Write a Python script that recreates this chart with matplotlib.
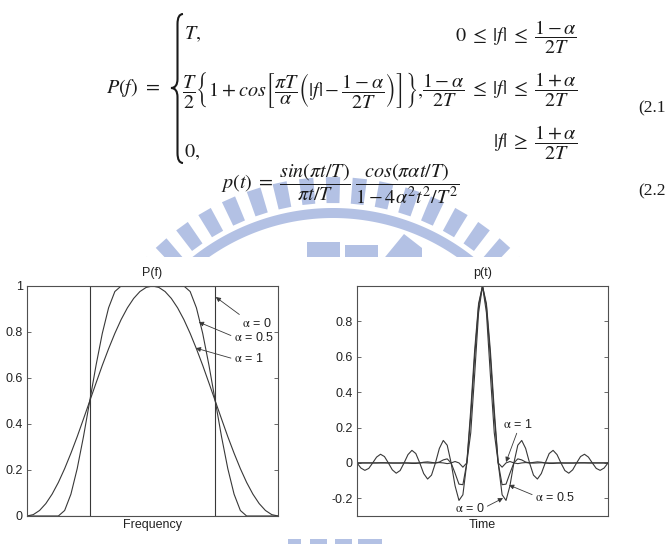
import matplotlib
matplotlib.use('Agg')
import matplotlib.pyplot as plt
from matplotlib.path import Path
from matplotlib.patches import PathPatch, Polygon, Rectangle
import numpy as np

W, H = 665, 544

# ---------------- data ----------------
freq = [-1.00, -0.95, -0.90, -0.85, -0.80, -0.75, -0.70, -0.65, -0.60, -0.55,
        -0.50, -0.45, -0.40, -0.35, -0.30, -0.25, -0.20, -0.15, -0.10, -0.05,
        0.00, 0.05, 0.10, 0.15, 0.20, 0.25, 0.30, 0.35, 0.40, 0.45,
        0.50, 0.55, 0.60, 0.65, 0.70, 0.75, 0.80, 0.85, 0.90, 0.95, 1.00]
P_rect_f = [-1.0, -0.5, -0.5, 0.5, 0.5, 1.0]
P_rect = [0.0, 0.0, 1.0, 1.0, 0.0, 0.0]
P_a05 = [0.000, 0.000, 0.000, 0.000, 0.000, 0.000, 0.024, 0.095, 0.206, 0.345,
         0.500, 0.655, 0.794, 0.905, 0.976, 1.000, 1.000, 1.000, 1.000, 1.000,
         1.000, 1.000, 1.000, 1.000, 1.000, 1.000, 0.976, 0.905, 0.794, 0.655,
         0.500, 0.345, 0.206, 0.095, 0.024, 0.000, 0.000, 0.000, 0.000, 0.000, 0.000]
P_a1 = [0.000, 0.006, 0.024, 0.054, 0.095, 0.146, 0.206, 0.273, 0.345, 0.422,
        0.500, 0.578, 0.655, 0.727, 0.794, 0.854, 0.905, 0.946, 0.976, 0.994,
        1.000, 0.994, 0.976, 0.946, 0.905, 0.854, 0.794, 0.727, 0.655, 0.578,
        0.500, 0.422, 0.345, 0.273, 0.206, 0.146, 0.095, 0.054, 0.024, 0.006, 0.000]

time = [-8.00, -7.75, -7.50, -7.25, -7.00, -6.75, -6.50, -6.25, -6.00, -5.75,
        -5.50, -5.25, -5.00, -4.75, -4.50, -4.25, -4.00, -3.75, -3.50, -3.25,
        -3.00, -2.75, -2.50, -2.25, -2.00, -1.75, -1.50, -1.25, -1.00, -0.75,
        -0.50, -0.25, 0.00, 0.25, 0.50, 0.75, 1.00, 1.25, 1.50, 1.75,
        2.00, 2.25, 2.50, 2.75, 3.00, 3.25, 3.50, 3.75, 4.00, 4.25,
        4.50, 4.75, 5.00, 5.25, 5.50, 5.75, 6.00, 6.25, 6.50, 6.75,
        7.00, 7.25, 7.50, 7.75, 8.00]
p_a0 = [0.000, -0.029, -0.042, -0.031, 0.000, 0.033, 0.049, 0.036, 0.000, -0.039,
        -0.058, -0.043, 0.000, 0.047, 0.071, 0.053, 0.000, -0.060, -0.091, -0.069,
        0.000, 0.082, 0.127, 0.100, 0.000, -0.129, -0.212, -0.180, 0.000, 0.300,
        0.637, 0.900, 1.000, 0.900, 0.637, 0.300, 0.000, -0.180, -0.212, -0.129,
        0.000, 0.100, 0.127, 0.082, 0.000, -0.069, -0.091, -0.060, 0.000, 0.053,
        0.071, 0.047, 0.000, -0.043, -0.058, -0.039, 0.000, 0.036, 0.049, 0.033,
        0.000, -0.031, -0.042, -0.029, 0.000]
p_a05 = [0.000, 0.000, 0.000, 0.000, 0.000, 0.000, 0.001, 0.001, 0.000, -0.001,
         -0.001, -0.001, 0.000, -0.001, -0.003, -0.003, 0.000, 0.004, 0.006, 0.003,
         0.000, 0.005, 0.017, 0.023, 0.000, -0.058, -0.120, -0.123, 0.000, 0.263,
         0.600, 0.887, 1.000, 0.887, 0.600, 0.263, 0.000, -0.123, -0.120, -0.058,
         0.000, 0.023, 0.017, 0.005, 0.000, 0.003, 0.006, 0.004, 0.000, -0.003,
         -0.003, -0.001, 0.000, -0.001, -0.001, -0.001, 0.000, 0.001, 0.001, 0.000,
         0.000, 0.000, 0.000, 0.000, 0.000]
p_a1 = [0.000, 0.000, 0.000, 0.000, 0.000, 0.000, 0.000, 0.000, 0.000, 0.000,
        0.000, 0.000, 0.000, 0.000, 0.000, 0.000, 0.000, 0.001, 0.000, -0.001,
        0.000, 0.002, 0.000, -0.004, 0.000, 0.008, 0.000, -0.024, 0.000, 0.170,
        0.500, 0.849, 1.000, 0.849, 0.500, 0.170, 0.000, -0.024, 0.000, 0.008,
        0.000, -0.004, 0.000, 0.002, 0.000, -0.001, 0.000, 0.001, 0.000, 0.000,
        0.000, 0.000, 0.000, 0.000, 0.000, 0.000, 0.000, 0.000, 0.000, 0.000,
        0.000, 0.000, 0.000, 0.000, 0.000]

yticks_L = [0, 0.2, 0.4, 0.6, 0.8, 1]
yticklabels_L = ['0', '0.2', '0.4', '0.6', '0.8', '1']
yticks_R = [-0.2, 0, 0.2, 0.4, 0.6, 0.8]
yticklabels_R = ['-0.2', '0', '0.2', '0.4', '0.6', '0.8']

# ---------------- figure ----------------
plt.rcParams['font.family'] = ['Liberation Sans', 'DejaVu Sans']
fig = plt.figure(figsize=(W / 100, H / 100), dpi=100)
fig.patch.set_facecolor('white')

bg = fig.add_axes([0, 0, 1, 1], zorder=-1)
bg.set_xlim(0, W)
bg.set_ylim(H, 0)
bg.axis('off')

# watermark (faint logo)
wm = '#b3c1e4'
cx, cy = 333, 434
for ang in np.arange(42, 139, 6.0):
    a1, a2 = np.radians(ang - 1.6), np.radians(ang + 1.6)
    r1, r2 = 231, 257
    pts = [(cx + r1 * np.cos(a1), cy - r1 * np.sin(a1)),
           (cx + r2 * np.cos(a1), cy - r2 * np.sin(a1)),
           (cx + r2 * np.cos(a2), cy - r2 * np.sin(a2)),
           (cx + r1 * np.cos(a2), cy - r1 * np.sin(a2))]
    bg.add_patch(Polygon(pts, closed=True, fc=wm, ec='none', zorder=1))
th = np.radians(np.linspace(30, 150, 200))
ring = [(cx + 226 * np.cos(t), cy - 226 * np.sin(t)) for t in th] + \
       [(cx + 216 * np.cos(t), cy - 216 * np.sin(t)) for t in th[::-1]]
bg.add_patch(Polygon(ring, closed=True, fc=wm, ec='none', zorder=1))
bg.add_patch(Rectangle((307, 242), 33, 20, fc=wm, ec='none', zorder=1))
bg.add_patch(Rectangle((345, 245), 33, 20, fc=wm, ec='none', zorder=1))
bg.add_patch(Polygon([(381, 262), (404, 234), (422, 248), (422, 262)],
                     closed=True, fc=wm, ec='none', zorder=1))
for x0, x1 in [(288, 301), (310, 327), (335, 352), (358, 382)]:
    bg.add_patch(Rectangle((x0, 539), x1 - x0, 8, fc=wm, ec='none', zorder=1))
# white area of the pasted figure
bg.add_patch(Rectangle((0, 257), W, 281, fc='white', ec='none', zorder=2))

# equations
ec = '#1a1a1a'
efs = 14.5
def eq(x, y, s, ha='left', fs=efs):
    bg.text(x, y, s, ha=ha, va='center', fontsize=fs, color=ec,
            math_fontfamily='stix', zorder=3)

eq(160, 88, r'$P(f)\ =$', ha='right')
# curly brace
bx_r, bx_m, bx_l = 183, 177.5, 171
y_t, y_m, y_b = 14, 88, 163
verts = [(bx_r, y_t), (bx_m, y_t), (bx_m, y_t + 10), (bx_m, y_m - 9),
         (bx_m, y_m), (bx_l, y_m), (bx_m, y_m), (bx_m, y_m + 9),
         (bx_m, y_b - 10), (bx_m, y_b), (bx_r, y_b)]
codes = [Path.MOVETO, Path.CURVE3, Path.CURVE3, Path.LINETO,
         Path.CURVE3, Path.CURVE3, Path.CURVE3, Path.CURVE3,
         Path.LINETO, Path.CURVE3, Path.CURVE3]
bg.add_patch(PathPatch(Path(verts, codes), fc='none', ec=ec, lw=1.5, zorder=3))

eq(184, 34, r'$T,$')
eq(577, 37, r'$0 \;\leq\; |f| \;\leq\; \dfrac{1-\alpha}{2T}$', ha='right')
eq(182, 90, r'$\dfrac{T}{2}\left\{1+cos\left[\dfrac{\pi T}{\alpha}\left(|f|-\dfrac{1-\alpha}{2T}\right)\right]\right\},$')
eq(577, 90, r'$\dfrac{1-\alpha}{2T}\;\leq\;|f|\;\leq\;\dfrac{1+\alpha}{2T}$', ha='right')
eq(184, 152, r'$0,$')
eq(577, 143, r'$|f| \;\geq\; \dfrac{1+\alpha}{2T}$', ha='right')
bg.text(638, 108, '(2.1', ha='left', va='center', fontsize=12.5,
        family='Liberation Serif', color=ec, zorder=3)

eq(340, 184, r'$p(t) \;=\; \dfrac{sin(\pi t/T)}{\pi t/T}\;\dfrac{cos(\pi\alpha t/T)}{1-4\alpha^2t^2/T^2}$', ha='center')
bg.text(638, 191, '(2.2', ha='left', va='center', fontsize=12.5,
        family='Liberation Serif', color=ec, zorder=3)

# ---------------- plots ----------------
lc = '#383838'
sc = '#505050'
tfs = 9

def style(ax):
    for s in ax.spines.values():
        s.set_color(sc)
        s.set_linewidth(0.8)
    ax.set_xticks([])
    ax.tick_params(axis='y', direction='in', length=3, width=0.6, color=sc,
                   right=True, labelsize=tfs, labelcolor='#222222', pad=3)

def label(ax, s, x, y, xy, rel):
    ax.annotate(s, xy=xy, xytext=(x, y), ha='left', va='center',
                fontsize=tfs, color='#222222', math_fontfamily='stix',
                arrowprops=dict(arrowstyle='-|>', color=lc, lw=0.6,
                                mutation_scale=7, shrinkA=0, shrinkB=0,
                                relpos=rel))

axL = fig.add_axes([27 / W, (H - 516) / H, 251 / W, 230 / H], zorder=1)
axL.plot(P_rect_f, P_rect, color=lc, lw=0.8)
axL.plot(freq, P_a05, color=lc, lw=0.8)
axL.plot(freq, P_a1, color=lc, lw=0.8)
axL.set_xlim(-1, 1)
axL.set_ylim(0, 1)
style(axL)
axL.set_yticks(yticks_L)
axL.set_yticklabels(yticklabels_L)
axL.text(0.5, 1 + 13 / 230, 'P(f)', transform=axL.transAxes, ha='center',
         va='center', fontsize=tfs, color='#222222')
axL.text(0.5, -9 / 230, 'Frequency', transform=axL.transAxes, ha='center',
         va='center', fontsize=tfs, color='#222222')
label(axL, r'$\mathrm{\alpha}$ = 0', 0.714, 0.839, (0.504, 0.952), (0, 1))
label(axL, r'$\mathrm{\alpha}$ = 0.5', 0.647, 0.774, (0.369, 0.843), (0, 0.6))
label(axL, r'$\mathrm{\alpha}$ = 1', 0.647, 0.683, (0.345, 0.730), (0, 0.5))

axR = fig.add_axes([357 / W, (H - 516) / H, 251 / W, 230 / H], zorder=1)
axR.plot(time, p_a0, color=lc, lw=0.8)
axR.plot(time, p_a05, color=lc, lw=0.8)
axR.plot(time, p_a1, color=lc, lw=0.8)
axR.set_xlim(-8, 8)
axR.set_ylim(-0.3, 1)
style(axR)
axR.set_yticks(yticks_R)
axR.set_yticklabels(yticklabels_R)
axR.text(0.5, 1 + 13 / 230, 'p(t)', transform=axR.transAxes, ha='center',
         va='center', fontsize=tfs, color='#222222')
axR.text(0.5, -9 / 230, 'Time', transform=axR.transAxes, ha='center',
         va='center', fontsize=tfs, color='#222222')
label(axR, r'$\mathrm{\alpha}$ = 1', 1.31, 0.22, (1.50, 0.005), (0.5, 0))
label(axR, r'$\mathrm{\alpha}$ = 0.5', 3.34, -0.193, (1.69, -0.125), (0, 0.6))
label(axR, r'$\mathrm{\alpha}$ = 0', -1.75, -0.26, (1.31, -0.199), (1, 0.6))

fig.savefig('out.png', dpi=100, facecolor='white')
